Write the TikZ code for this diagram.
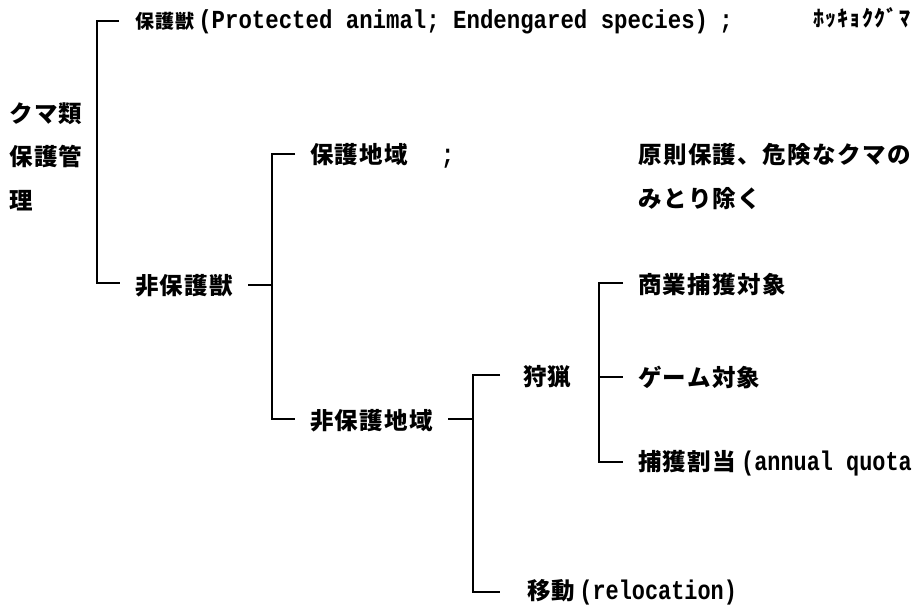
\documentclass[tikz,border=0pt]{standalone}
\usepackage{fontspec}
\newfontfamily\cjk{Noto Sans CJK JP}[LetterSpace=6]
\newfontfamily\latA{Liberation Mono}[FakeStretch=0.81]
\newfontfamily\latB{Liberation Mono}[FakeStretch=0.86]
\newcommand\jm{\cjk\bfseries\fontsize{23.5}{43.5}\selectfont}
\newcommand\jt{\cjk\bfseries\fontsize{19}{24}\selectfont}
\newcommand\jh{\cjk\bfseries\fontsize{22}{24}\selectfont}
\newcommand\la{\latA\bfseries\fontsize{27}{30}\selectfont}
\newcommand\lb{\latB\bfseries\fontsize{26}{30}\selectfont}
\tikzset{
  lbl/.style={inner sep=0pt, outer sep=0pt, anchor=base west, font=\jm},
  brk/.style={line width=1.8pt}
}
\begin{document}
\begin{tikzpicture}[x=1pt,y=-1pt]
\fill[white] (0,0) rectangle (916,609);
\useasboundingbox (0,0) rectangle (916,609);

% ---- text nodes ----
\node[lbl, font=\jt] (prot) at (135,29) {保護獣\hspace{4pt}{\lb(Protected animal; Endengared species)}};
\node[inner sep=0pt, anchor=base, font=\lb] (protsemi) at (726,29) {;};
\node[lbl, font=\jh] (polar) at (813,27) {ﾎｯｷｮｸｸﾞﾏ};
\node[inner sep=0pt, anchor=west, align=left, font=\jm] (root) at (9,156.5) {クマ類\\保護管\\理};
\node[lbl] (nonprot) at (135,295) {非保護獣};
\node[lbl] (area) at (310,164) {保護地域\hspace{33pt}{\la;}};
\node[inner sep=0pt, anchor=west, align=left, font=\jm] (note) at (638,176.5) {原則保護、危険なクマの\\みとり除く};
\node[lbl] (nonarea) at (310,430) {非保護地域};
\node[lbl] (hunt) at (523,386) {狩猟};
\node[lbl] (reloc) at (527,599) {移動\hspace{4pt}{\la(relocation)}};
\node[lbl] (comm) at (638,294) {商業捕獲対象};
\node[lbl] (game) at (638,387) {ゲーム対象};
\node[lbl] (quota) at (638,471) {捕獲割当\hspace{5pt}{\la(annual quota}};

% ---- bracket coordinates ----
\coordinate (aT) at (119,21);  \coordinate (aTc) at (97,21);
\coordinate (aBc) at (97,283); \coordinate (aB) at (120,283);
\coordinate (bT) at (295,154); \coordinate (bTc) at (272,154);
\coordinate (bBc) at (272,419); \coordinate (bB) at (295,419);
\coordinate (bM) at (272,285); \coordinate (bIn) at (248,285);
\coordinate (cT) at (500,375); \coordinate (cTc) at (473,375);
\coordinate (cBc) at (473,592); \coordinate (cB) at (500,592);
\coordinate (cM) at (473,419); \coordinate (cIn) at (448,419);
\coordinate (dT) at (623,283); \coordinate (dTc) at (599,283);
\coordinate (dBc) at (599,462); \coordinate (dB) at (623,462);
\coordinate (dM) at (599,377); \coordinate (dMe) at (623,377);

% ---- brackets ----
\draw[brk] (aT) -- (aTc) -- (aBc) -- (aB);
\draw[brk] (bT) -- (bTc) -- (bBc) -- (bB);
\draw[brk] (bIn) -- (bM);
\draw[brk] (cT) -- (cTc) -- (cBc) -- (cB);
\draw[brk] (cIn) -- (cM);
\draw[brk] (dT) -- (dTc) -- (dBc) -- (dB);
\draw[brk] (dM) -- (dMe);
\end{tikzpicture}
\end{document}
